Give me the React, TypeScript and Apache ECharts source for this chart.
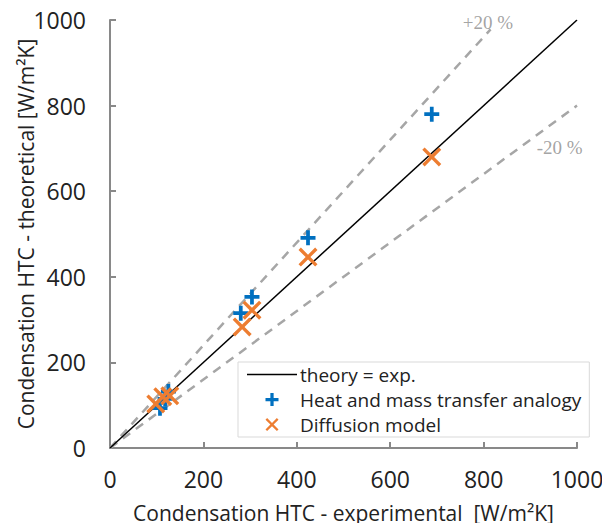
import React, { useEffect, useRef } from "react";
import * as echarts from "echarts";

const xTicks = [0, 200, 400, 600, 800, 1000];
const theoryLine = [[0, 0], [1000, 1000]];
const plus20Line = [[0, 0], [815, 978]];
const minus20Line = [[0, 0], [1000, 800]];
const heatData = [[689, 780], [424, 491], [304, 353], [280, 315], [125, 132], [118, 115], [107, 93]];
const diffusionData = [[689, 680], [424, 446], [304, 322], [283, 283], [128, 122], [113, 120], [98, 103]];
const bandLabels = [
  { value: [809, 995], text: "+20 %" },
  { value: [963, 703], text: "-20 %" },
];

const PLUS = "path://M7.5,0H12.5V7.5H20V12.5H12.5V20H7.5V12.5H0V7.5H7.5Z";
const CROSS = "path://M0,2.5L2.5,0L10,7.5L17.5,0L20,2.5L12.5,10L20,17.5L17.5,20L10,12.5L2.5,20L0,17.5L7.5,10Z";
const LINE_ICON = "path://M0,0H50V1.5H0Z";
const FONT = "Open Sans";
const AXIS_COLOR = "#898989";

export default function App() {
  const ref = useRef<HTMLDivElement>(null);
  useEffect(() => {
    const chart = echarts.init(ref.current!, null, { renderer: "svg" });
    chart.setOption({
      animation: false,
      textStyle: { fontFamily: FONT },
      grid: { left: 110, right: 33, top: 20, bottom: 83, containLabel: false, outerBoundsMode: "none" },
      xAxis: {
        type: "value",
        min: xTicks[0],
        max: xTicks[xTicks.length - 1],
        interval: 200,
        name: "Condensation HTC - experimental  [W/m²K]",
        nameLocation: "middle",
        nameGap: 54,
        nameMoveOverlap: false,
        nameTextStyle: { fontSize: 21, color: "#222", fontFamily: FONT },
        axisLine: { lineStyle: { color: AXIS_COLOR, width: 2 } },
        axisTick: { inside: true, length: 6, lineStyle: { color: AXIS_COLOR, width: 2 } },
        axisLabel: { fontSize: 23, color: "#222", margin: 19, fontFamily: FONT, formatter: (v: number) => String(v) },
        splitLine: { show: false },
      },
      yAxis: {
        type: "value",
        min: 0,
        max: 1000,
        interval: 200,
        name: "Condensation HTC - theoretical [W/m²K]",
        nameLocation: "middle",
        nameGap: 74,
        nameMoveOverlap: false,
        nameTextStyle: { fontSize: 21, color: "#222", fontFamily: FONT },
        axisLine: { lineStyle: { color: AXIS_COLOR, width: 2 } },
        axisTick: { inside: true, length: 6, lineStyle: { color: AXIS_COLOR, width: 2 } },
        axisLabel: { fontSize: 23, color: "#222", margin: 24, fontFamily: FONT, formatter: (v: number) => String(v) },
        splitLine: { show: false },
      },
      legend: {
        orient: "vertical",
        left: 238,
        top: 362,
        data: [
          { name: "theory = exp.", icon: LINE_ICON, itemStyle: { color: "#000" } },
          { name: "Heat and mass transfer analogy", icon: PLUS },
          { name: "Diffusion model", icon: CROSS },
        ],
        itemWidth: 50,
        itemHeight: 13,
        itemGap: 6,
        padding: [3, 8, 3, 9],
        borderColor: "#d9d9d9",
        borderWidth: 1,
        backgroundColor: "#fff",
        textStyle: { fontSize: 19, color: "#222", fontFamily: FONT, padding: [0, 0, 0, -2] },
      },
      series: [
        {
          name: "theory = exp.",
          type: "line",
          data: theoryLine,
          symbol: "none",
          lineStyle: { color: "#000", width: 1.5 },
          itemStyle: { color: "#000" },
          z: 2,
        },
        {
          name: "+20%",
          type: "line",
          data: plus20Line,
          symbol: "none",
          lineStyle: { color: "#a6a6a6", width: 2.5, type: [9, 7] },
          z: 1,
        },
        {
          name: "-20%",
          type: "line",
          data: minus20Line,
          symbol: "none",
          lineStyle: { color: "#a6a6a6", width: 2.5, type: [9, 7] },
          z: 1,
        },
        {
          name: "Heat and mass transfer analogy",
          type: "scatter",
          data: heatData,
          symbol: PLUS,
          symbolSize: 15,
          itemStyle: { color: "#0070c0", opacity: 1 },
          z: 3,
        },
        {
          name: "Diffusion model",
          type: "scatter",
          data: diffusionData,
          symbol: CROSS,
          symbolSize: 19,
          itemStyle: { color: "#ed7d31", opacity: 1 },
          z: 4,
        },
        {
          name: "bandLabels",
          type: "scatter",
          data: bandLabels.map((b) => ({ value: b.value, name: b.text })),
          symbol: "circle",
          symbolSize: 2,
          itemStyle: { color: "rgba(0,0,0,0)" },
          silent: true,
          label: {
            show: true,
            position: "inside",
            formatter: (p: any) => p.name,
            fontFamily: "Liberation Serif",
            fontSize: 19,
            color: "#8c8c8c",
          },
          z: 5,
        },
      ],
    });
    return () => chart.dispose();
  }, []);
  return <div ref={ref} style={{ width: 610, height: 531, margin: -8 }} />;
}
